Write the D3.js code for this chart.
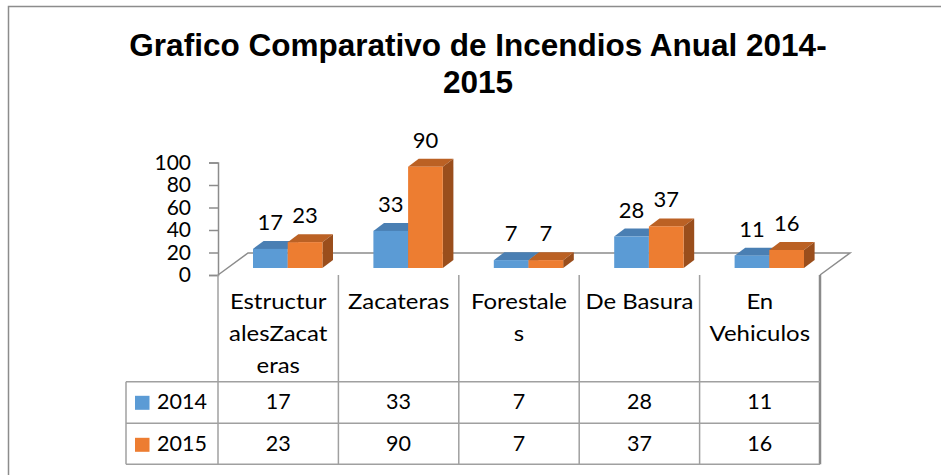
<!DOCTYPE html>
<html>
<head>
<meta charset="utf-8">
<script src="https://cdn.jsdelivr.net/npm/d3@7"></script>
<style>
  body { margin: 0; background: #fff; }
  svg text { font-family: Lato, "Noto Sans", sans-serif; fill: #000; }
</style>
</head>
<body>
<div id="chart"></div>
<script>
const categories = ["Estructur|alesZacat|eras", "Zacateras", "Forestale|s", "De Basura", "En|Vehiculos"];
const years = ["2014", "2015"];
const values2014 = [17, 33, 7, 28, 11];
const values2015 = [23, 90, 7, 37, 16];
const yTicks = [0, 20, 40, 60, 80, 100];

const width = 941;
const height = 475;

const svg = d3.select('#chart')
    .append('svg')
    .attr('width', width)
    .attr('height', height);

// outer chart border (only top + left fall inside the picture)
svg.append("rect")
    .attr("x", 8.5).attr("y", 6.5)
    .attr("width", 960).attr("height", 500)
    .attr("fill", "none")
    .attr("stroke", "#8c8c8c")
    .attr("stroke-width", 1.5);

// title
const title = svg.append("text")
    .attr("text-anchor", "middle")
    .style("font-family", "'Liberation Sans', Arial, sans-serif")
    .style("font-weight", "bold")
    .style("font-size", "31.5px");
title.append("tspan").attr("x", 478).attr("y", 56).text("Grafico Comparativo de Incendios Anual 2014-");
title.append("tspan").attr("x", 478).attr("y", 93).text("2015");

const left = 218, right = 820;
const floorFront = 275;
const depthX = 30, depthY = 22;

const x = d3.scaleBand().domain(categories).range([left, right]);
const y = d3.scaleLinear().domain([0, 100]).range([floorFront, 162.5]);
const xs = d3.scaleBand().domain(years).range([0, 69.4]);

const axisColor = "#8c8c8c";

// floor
svg.append("path")
    .attr("d", `M${left},${floorFront} L${left + depthX},${floorFront - depthY} L${right + depthX},${floorFront - depthY} L${right},${floorFront}`)
    .attr("fill", "none")
    .attr("stroke", axisColor)
    .attr("stroke-width", 1.5);

// value axis
const yAxis = d3.axisLeft(y).tickValues(yTicks).tickSize(9).tickPadding(18);
const gy = svg.append("g").attr("transform", `translate(${left},0)`).call(yAxis);
gy.select(".domain").attr("stroke", axisColor).attr("stroke-width", 1.5);
gy.selectAll(".tick line").attr("stroke", axisColor).attr("stroke-width", 1.5);
gy.selectAll(".tick text")
    .style("font-family", "Lato, sans-serif")
    .style("font-size", "21px")
    .attr("fill", "#000");

// 3D bars
const bd = 10.6, bdy = 8;
const barBase = 268;
const colors = {
    "2014": { front: "#5b9bd5", top: "#4a7fb3", side: "#3f6d9b" },
    "2015": { front: "#ed7d31", top: "#bb6124", side: "#9a4e1c" }
};
const series = [
    { year: "2014", values: values2014 },
    { year: "2015", values: values2015 }
];

const bars = [];
series.forEach(s => s.values.forEach((v, i) => bars.push({ year: s.year, cat: categories[i], value: v })));

const barG = svg.append("g");
bars.forEach(d => {
    const x0 = x(d.cat) + x.bandwidth() / 2 + 9.5 - 34.7 + xs(d.year);
    const w = xs.bandwidth();
    const h = floorFront - y(d.value);
    const yTop = barBase - h;
    const c = colors[d.year];
    const g = barG.append("g");
    g.append("path")
        .attr("d", `M${x0},${yTop} L${x0 + bd},${yTop - bdy} L${x0 + w + bd},${yTop - bdy} L${x0 + w},${yTop} Z`)
        .attr("fill", c.top);
    g.append("path")
        .attr("d", `M${x0 + w},${yTop} L${x0 + w + bd},${yTop - bdy} L${x0 + w + bd},${barBase - bdy} L${x0 + w},${barBase} Z`)
        .attr("fill", c.side);
    g.append("rect")
        .attr("x", x0).attr("y", yTop)
        .attr("width", w).attr("height", h)
        .attr("fill", c.front);
    g.append("text")
        .attr("x", x0 + w / 2)
        .attr("y", yTop - 19)
        .attr("text-anchor", "middle")
        .style("font-size", "22px")
        .text(d.value);
});

// data table
const gridColor = "#a0a0a0";
const tableTop = floorFront, headBottom = 381.7, row1Bottom = 423.3, row2Bottom = 464.3;
const legendLeft = 126;
const table = svg.append("g");

// vertical lines
x.domain().forEach(c => {
    table.append("line")
        .attr("x1", x(c)).attr("x2", x(c))
        .attr("y1", tableTop).attr("y2", row2Bottom)
        .attr("stroke", gridColor).attr("stroke-width", 1.5);
});
table.append("line")
    .attr("x1", right).attr("x2", right)
    .attr("y1", tableTop).attr("y2", row2Bottom)
    .attr("stroke", "#8a8a8a").attr("stroke-width", 2.5);
table.append("line")
    .attr("x1", legendLeft).attr("x2", legendLeft)
    .attr("y1", headBottom).attr("y2", row2Bottom)
    .attr("stroke", gridColor).attr("stroke-width", 1.5);
// horizontal lines
[headBottom, row1Bottom, row2Bottom].forEach(yy => {
    table.append("line")
        .attr("x1", legendLeft).attr("x2", right)
        .attr("y1", yy).attr("y2", yy)
        .attr("stroke", gridColor).attr("stroke-width", 1.5);
});

// headers (slightly widened, like the original font)
categories.forEach(c => {
    const lines = c.split("|");
    const t = table.append("text")
        .attr("transform", `translate(${x(c) + x.bandwidth() / 2},0) scale(1.14,1)`)
        .attr("text-anchor", "middle")
        .style("font-size", "21px");
    lines.forEach((ln, k) => {
        t.append("tspan")
            .attr("x", 0)
            .attr("y", 309.3 + k * 32)
            .text(ln);
    });
});

// rows
const rowBase = [409.3, 451.3];
series.forEach((s, r) => {
    table.append("rect")
        .attr("x", 135).attr("y", rowBase[r] - 13.5)
        .attr("width", 14.5).attr("height", 14)
        .attr("fill", colors[s.year].front);
    table.append("text")
        .attr("x", 157).attr("y", rowBase[r])
        .style("font-size", "21.5px")
        .text(s.year);
    s.values.forEach((v, i) => {
        table.append("text")
            .attr("x", x(categories[i]) + x.bandwidth() / 2)
            .attr("y", rowBase[r])
            .attr("text-anchor", "middle")
            .style("font-size", "21.5px")
            .text(v);
    });
});
</script>
</body>
</html>
